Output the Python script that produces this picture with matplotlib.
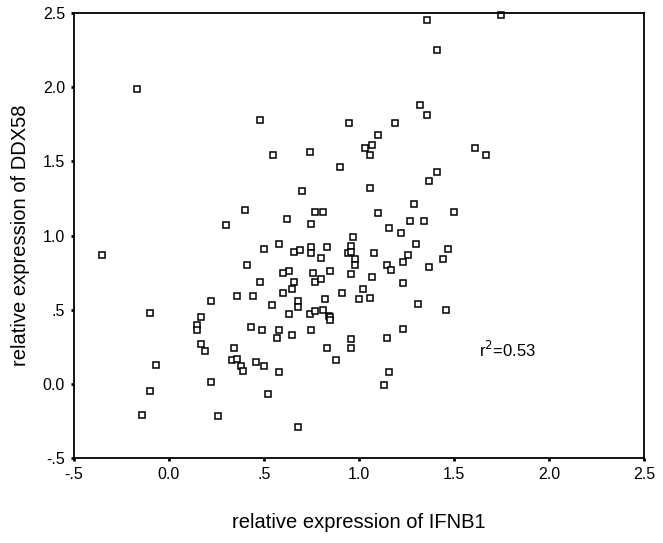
import matplotlib
matplotlib.use("Agg")
import matplotlib.pyplot as plt
import numpy as np

plt.rcParams['font.family'] = ['Liberation Sans', 'DejaVu Sans']

# relative expression of IFNB1 (x) and DDX58 (y)
ifnb1 = np.array([
    -0.17, 0.48, 0.40, 0.30, 1.36, 1.41, 1.32, 1.36, 0.95, 1.19,
    1.10, 1.03, 1.07, 1.06, 0.55, 0.74, 0.90, 1.41, 1.37, 0.70,
    1.06, 1.29, 0.77, 0.81, 1.10, 1.50, 0.62, 0.75, 1.27, 1.34,
    1.16, 1.22, 0.97, 1.75, 1.61, 1.67, -0.35, 0.50, 0.41, 0.48,
    0.36, 0.44, -0.10, 0.22, 0.17, 0.15, 0.15, 0.17, 0.19, 0.43,
    0.49, 0.34, 0.33, 0.36, 0.38, 0.39, 0.46, 0.50, -0.07, 0.22,
    0.52, -0.10, -0.14, 0.26, 0.58, 0.66, 0.69, 0.75, 0.75, 0.83,
    0.80, 0.96, 0.94, 0.96, 0.98, 0.98, 1.08, 1.30, 1.26, 1.23,
    1.47, 1.44, 1.15, 1.17, 1.37, 0.63, 0.60, 0.76, 0.85, 0.96,
    0.66, 0.77, 0.80, 1.07, 1.23, 0.65, 0.60, 1.02, 0.91, 1.00,
    1.06, 0.82, 0.68, 0.68, 0.54, 0.63, 0.74, 0.77, 0.81, 0.84,
    0.85, 0.85, 1.31, 1.46, 0.58, 0.57, 0.65, 0.75, 1.23, 1.15,
    0.96, 0.96, 0.83, 0.88, 0.58, 1.16, 1.13, 0.68,
])
ddx58 = np.array([
    1.99, 1.78, 1.17, 1.07, 2.45, 2.25, 1.88, 1.81, 1.76, 1.76,
    1.68, 1.59, 1.61, 1.54, 1.54, 1.56, 1.46, 1.43, 1.37, 1.30,
    1.32, 1.21, 1.16, 1.16, 1.15, 1.16, 1.11, 1.08, 1.10, 1.10,
    1.05, 1.02, 0.99, 2.49, 1.59, 1.54, 0.87, 0.91, 0.80, 0.69,
    0.59, 0.59, 0.48, 0.56, 0.45, 0.40, 0.36, 0.27, 0.22, 0.38,
    0.36, 0.24, 0.16, 0.17, 0.12, 0.09, 0.15, 0.12, 0.13, 0.01,
    -0.07, -0.05, -0.21, -0.22, 0.94, 0.89, 0.90, 0.92, 0.88, 0.92,
    0.85, 0.93, 0.88, 0.89, 0.84, 0.80, 0.88, 0.94, 0.87, 0.82,
    0.91, 0.84, 0.80, 0.77, 0.79, 0.76, 0.75, 0.75, 0.76, 0.74,
    0.69, 0.69, 0.71, 0.72, 0.68, 0.64, 0.61, 0.64, 0.61, 0.57,
    0.58, 0.57, 0.56, 0.52, 0.53, 0.47, 0.47, 0.49, 0.50, 0.46,
    0.45, 0.43, 0.54, 0.50, 0.36, 0.31, 0.33, 0.36, 0.37, 0.31,
    0.30, 0.24, 0.24, 0.16, 0.08, 0.08, -0.01, -0.29,
])

xticks = [-0.5, 0.0, 0.5, 1.0, 1.5, 2.0, 2.5]
xlabels = ['-.5', '0.0', '.5', '1.0', '1.5', '2.0', '2.5']
yticks = [-0.5, 0.0, 0.5, 1.0, 1.5, 2.0, 2.5]
ylabels = ['-.5', '0.0', '.5', '1.0', '1.5', '2.0', '2.5']

fig = plt.figure(figsize=(6.63, 5.43), dpi=100)
ax = fig.add_axes([0.1116, 0.1565, 0.8597, 0.8195])

ax.plot(ifnb1, ddx58, linestyle='none', marker='s', markersize=4.8,
        markerfacecolor='white', markeredgecolor='black', markeredgewidth=1.1,
        clip_on=False)

ax.set_xlim(-0.5, 2.5)
ax.set_ylim(-0.5, 2.5)
ax.set_xticks(xticks)
ax.set_xticklabels(xlabels)
ax.set_yticks(yticks)
ax.set_yticklabels(ylabels)
ax.tick_params(direction='out', length=2.5, width=2, labelsize=11.5, pad=4)
for s in ax.spines.values():
    s.set_linewidth(1.3)

ax.set_xlabel('relative expression of IFNB1', fontsize=14.5, labelpad=22)
ax.set_ylabel('relative expression of DDX58', fontsize=14.5, labelpad=9)

ax.text(1.632, 0.231, 'r$^2$=0.53', fontsize=12, va='center', ha='left')

fig.savefig('out.png', dpi=100)
